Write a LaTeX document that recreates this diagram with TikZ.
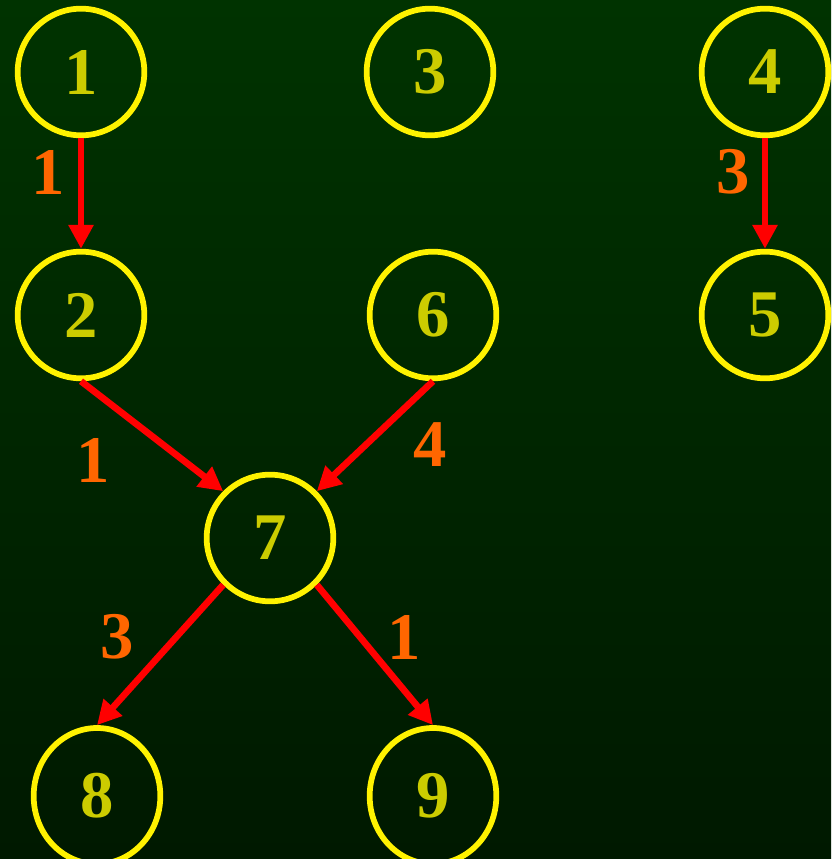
\documentclass[tikz,border=0pt]{standalone}
\usepackage{fontspec}
\setmainfont{Liberation Serif}
\usetikzlibrary{arrows.meta,shapes.geometric}

\definecolor{bgtop}{HTML}{003300}
\definecolor{bgbot}{HTML}{001900}
\definecolor{numcol}{HTML}{CCCC00}
\definecolor{wtcol}{HTML}{FF6600}

\begin{document}
\begin{tikzpicture}[x=0.75pt,y=-0.75pt,
    vert/.style={circle,draw=yellow,line width=4.3pt,inner sep=0pt,
      minimum size=95pt,text=numcol,font=\fontsize{50}{50}\selectfont\bfseries},
    wt/.style={text=wtcol,font=\fontsize{50}{50}\selectfont\bfseries},
    edge/.style={draw=red,line width=5pt,-{Triangle[length=18pt,width=18pt]}}]
  \useasboundingbox (0,0) rectangle (831,859);
  \clip (0,0) rectangle (831,859);
  \shade[top color=bgtop,bottom color=bgbot] (0,0) rectangle (831,859);

  % vertices
  \node[vert] (v1) at (81,72) {1};
  \node[vert] (v3) at (430,72) {3};
  \node[vert] (v4) at (765,72) {4};
  \node[vert] (v2) at (81,315) {2};
  \node[vert] (v6) at (433,315) {6};
  \node[vert] (v5) at (765,315) {5};
  \node[vert] (v7) at (270,538) {7};
  \node[vert,ellipse,minimum width=95pt,minimum height=102pt] (v8) at (97,796) {8};
  \node[vert,ellipse,minimum width=95pt,minimum height=102pt] (v9) at (433,796) {9};

  % edges
  \draw[edge] (v1) -- (v2);
  \draw[edge] (v4) -- (v5);
  \draw[edge] (v2.south) -- (v7.north west);
  \draw[edge] (v6.south) -- (v7.north east);
  \draw[edge] (v7.south west) -- (v8.north);
  \draw[edge] (v7.south east) -- (v9.north);

  % weights
  \node[wt] (w12) at (48,172) {1};
  \node[wt] (w45) at (733,172) {3};
  \node[wt] (w27) at (93,460) {1};
  \node[wt] (w67) at (430,445) {4};
  \node[wt] (w78) at (117,637) {3};
  \node[wt] (w79) at (404,637) {1};
\end{tikzpicture}
\end{document}
